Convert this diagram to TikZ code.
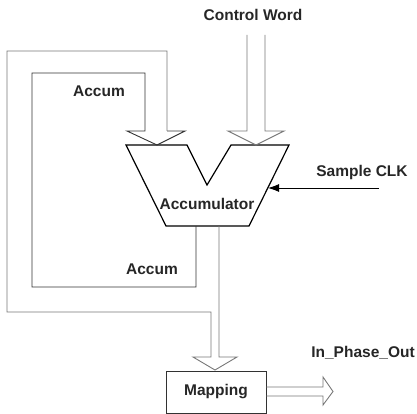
\documentclass[tikz,border=0pt]{standalone}
\usepackage{fontspec}
\setmainfont{Liberation Sans}
\usetikzlibrary{arrows.meta}
\definecolor{fatgray}{RGB}{120,120,120}
\definecolor{darkline}{RGB}{50,50,50}
\tikzset{
  lbl/.style={font=\bfseries\fontsize{15.5}{18}\selectfont,text=black!85,inner sep=0pt},
  fat/.style={draw=fatgray,line width=0.9pt},
  inner/.style={draw=darkline,line width=0.9pt}
}

\begin{document}
\begin{tikzpicture}[x=1pt,y=-1pt]
      \useasboundingbox (0,0) rectangle (417,414);
      % accumulator block
      \draw[line width=1.2pt,line join=miter] (126,145) -- (187,145) -- (207,185) -- (231,145) -- (289,145) -- (249,226) -- (166,226) -- cycle;
      \node[lbl] (acc) at (207,204) {Accumulator};
      \coordinate (accR) at (268,188);
      % control word input
      \node[lbl] (cw) at (253,15) {Control Word};
      \draw[fat] (247,35) -- (247,131) -- (228,131) -- (256,145) -- (284,131) -- (265,131) -- (265,35);
      % feedback loops
      \draw[inner] (196,226) -- (196,287) -- (32,287) -- (32,73) -- (145,73) -- (145,131) -- (127,131) -- (157,145) -- (185,131) -- (167,131);
      \draw[fat] (167,131) -- (167,51) -- (7,51) -- (7,312) -- (211,312) -- (211,357) -- (193,357) -- (215,370) -- (237,357) -- (219,357) -- (219,226);
      \node[lbl] (acc1) at (99,91) {Accum};
      \node[lbl] (acc2) at (152,269) {Accum};
      % clock
      \node[lbl] (clklbl) at (362,172) {Sample CLK};
      \coordinate (clk) at (379,188);
      \draw[-{Latex[length=11pt,width=8pt]},line width=0.9pt] (clk) -- (accR);
      % mapping
      \node[draw=darkline,line width=0.9pt,minimum width=100pt,minimum height=42pt,inner sep=0pt] (map) at (216,392) {};
      \node[lbl] at (map.center) {Mapping};
      \draw[fat] (map.east |- 0,387) -- (323,387) -- (323,377) -- (333,391.5) -- (323,405) -- (323,396) -- (map.east |- 0,396);
      \node[lbl] (out) at (363,353) {In\_Phase\_Out};
\end{tikzpicture}
\end{document}
